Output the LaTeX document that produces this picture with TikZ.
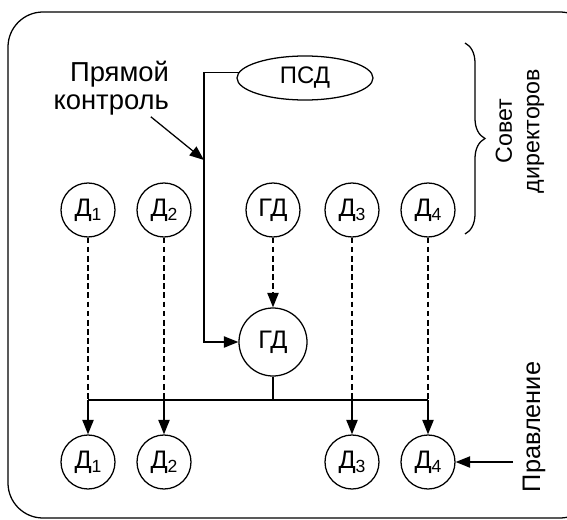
\documentclass[tikz,border=0pt]{standalone}
\usepackage{fontspec}
\setmainfont{Liberation Sans}
\usetikzlibrary{arrows.meta,shapes.geometric,decorations.pathreplacing}

% director with an index: Д and a small lowered digit
\newcommand\dn[1]{Д\raisebox{-0.3ex}{\fontsize{12.5}{12.5}\selectfont #1}}

\tikzset{
  dir/.style={circle,draw,minimum size=1.35cm,inner sep=0pt},
  link/.style={-{Triangle[length=3.6mm,width=2.8mm]}},
  dashlink/.style={dash pattern=on 4pt off 2.5pt},
}

\begin{document}
\begin{tikzpicture}[x=0.025cm,y=-0.025cm,line width=0.9pt,
    font=\fontsize{18}{20}\selectfont]
  \clip (0,0) rectangle (567,520);
  \draw[rounded corners=0.875cm] (8,12) rectangle (595,518);

  % board of directors
  \node[ellipse,draw,minimum width=3.4cm,minimum height=1.1cm,inner sep=0pt,
    font=\fontsize{17}{20}\selectfont] (psd) at (305,78) {ПСД};
  \node[dir] (t1) at (88,210) {\dn1};
  \node[dir] (t2) at (164,210) {\dn2};
  \node[dir] (tg) at (273,210) {ГД};
  \node[dir] (t3) at (352,210) {\dn3};
  \node[dir] (t4) at (428,210) {\dn4};
  \draw[decorate,decoration={brace,amplitude=0.5cm}] (465,43) -- (465,234);
  \node[rotate=90,align=center,font=\fontsize{16.5}{19.5}\selectfont] (board) at (520,131) {Совет\\директоров};

  % management
  \node[dir,minimum size=1.7cm] (gd) at (273,342) {ГД};
  \node[dir] (b1) at (88,462) {\dn1};
  \node[dir] (b2) at (164,462) {\dn2};
  \node[dir] (b3) at (352,462) {\dn3};
  \node[dir] (b4) at (428,462) {\dn4};
  \node[rotate=90] (mgmt) at (534,427) {Правление};
  \coordinate (pr) at (513,462);
  \draw[link] (pr) -- (b4);

  % direct control of the chairman
  \node[align=right,anchor=east,inner sep=1pt,font=\fontsize{19.5}{19.5}\selectfont] (ctrl) at (171,88) {Прямой\\контроль};
  \coordinate (ctl) at (204,160);
  \draw[link] (psd.175) -| (ctl) |- (gd);
  \draw[link] (ctrl.-36) -- (ctl);

  % chain of command
  \coordinate (bus) at (273,400);
  \draw[dashlink,link] (tg) -- (gd);
  \draw (gd) -- (bus);
  \draw (b1 |- bus) -- (b4 |- bus);
  \foreach \i in {1,2,3,4} {
    \draw[dashlink] (t\i) -- (b\i |- bus);
    \draw[link] (b\i |- bus) -- (b\i);
  }
\end{tikzpicture}
\end{document}
